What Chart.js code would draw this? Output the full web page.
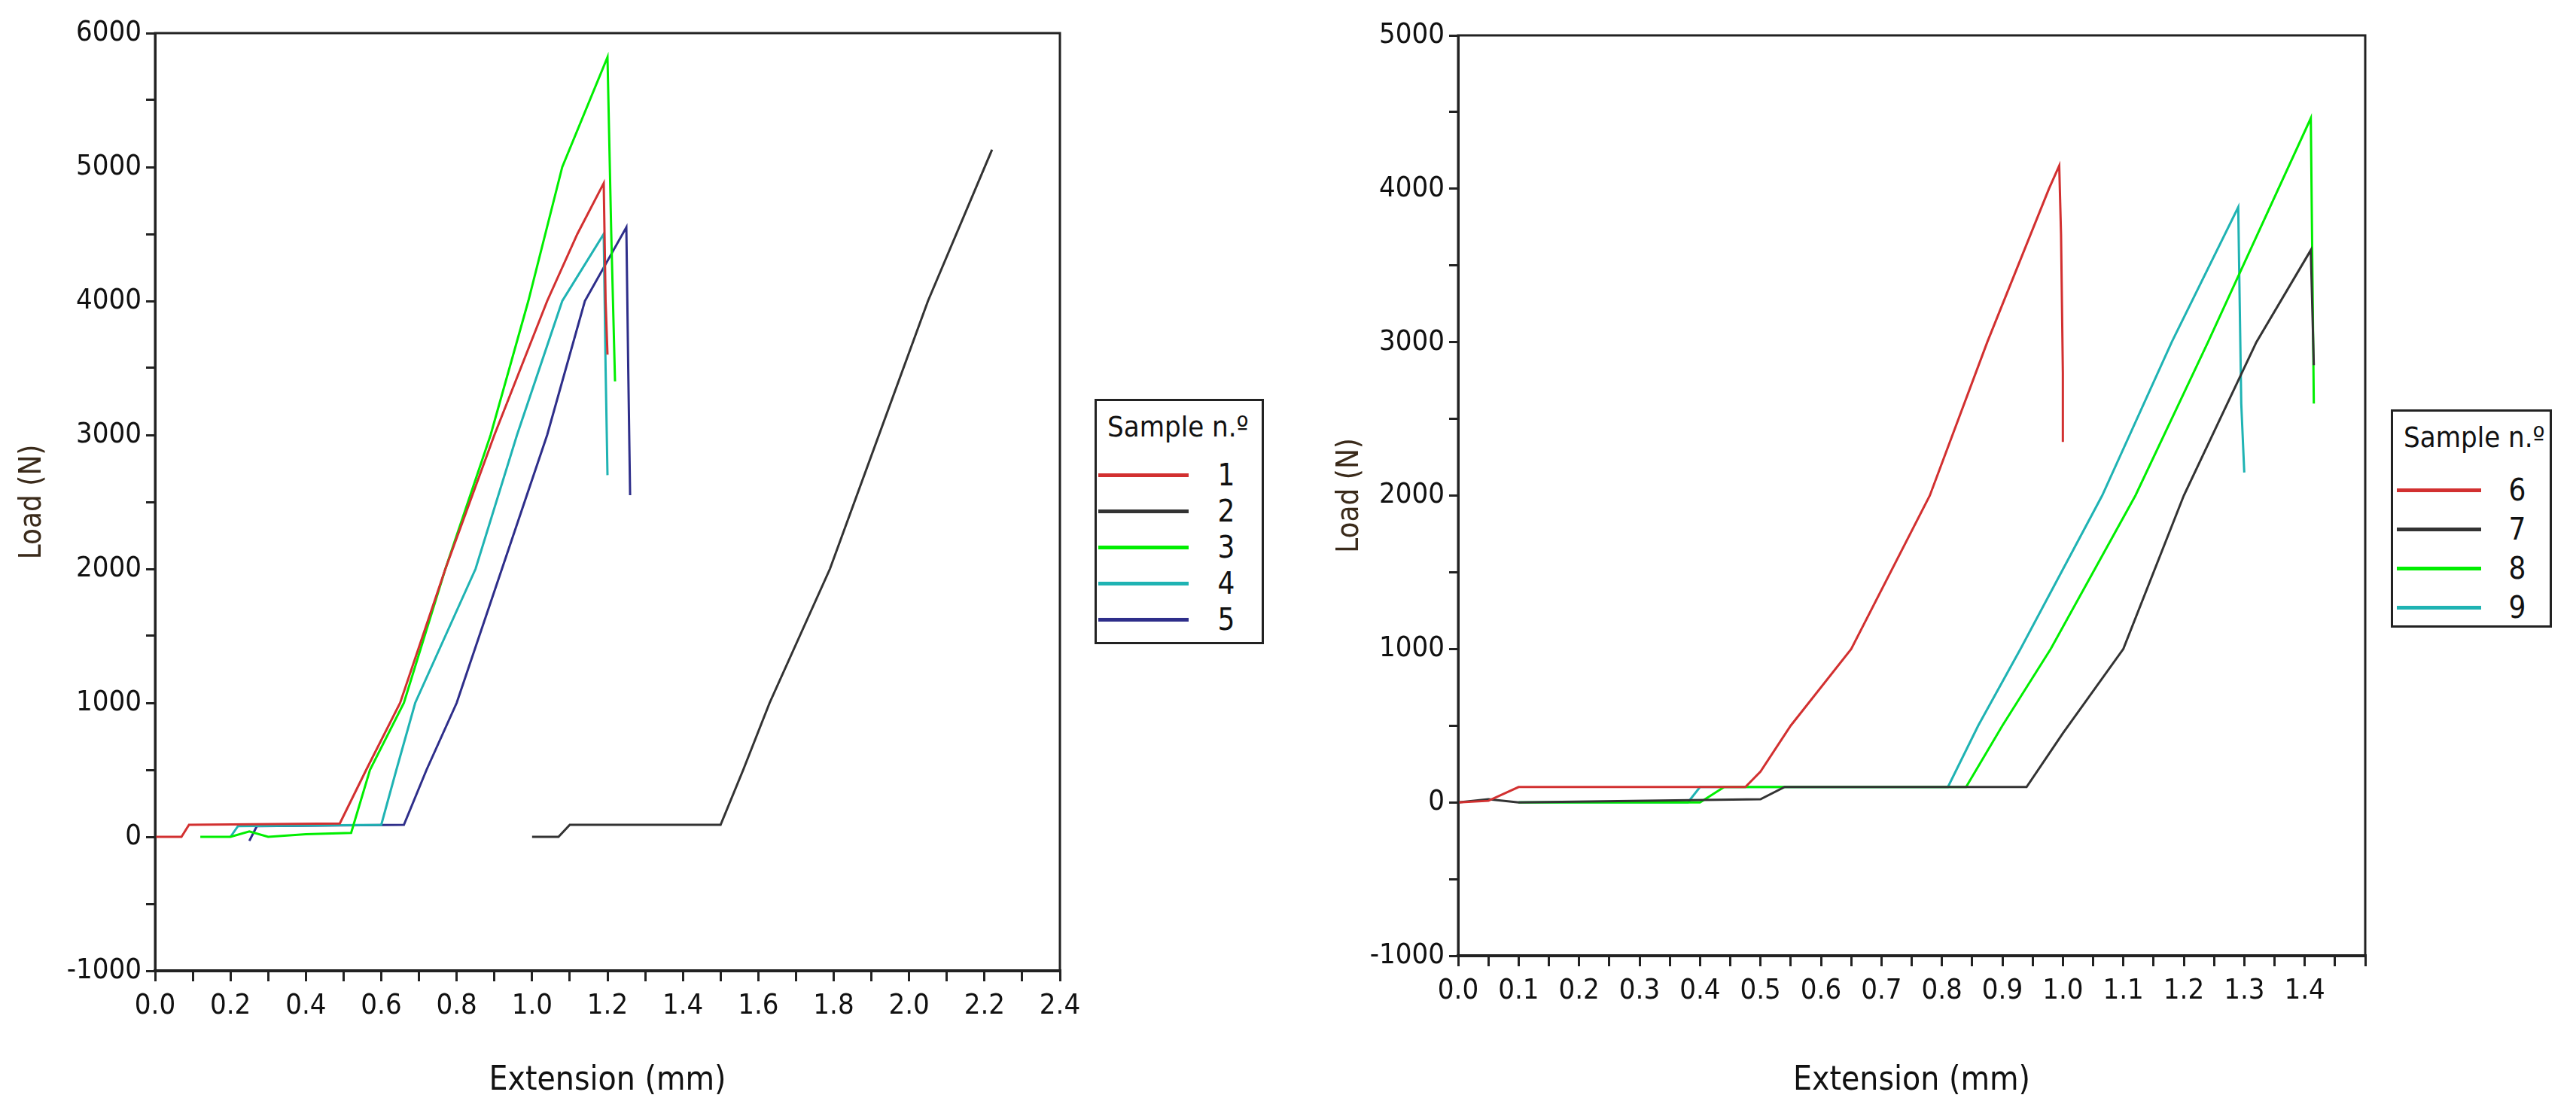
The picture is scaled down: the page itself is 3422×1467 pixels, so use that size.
<!DOCTYPE html>
<html><head><meta charset="utf-8">
<script src="https://cdn.jsdelivr.net/npm/chart.js@4/dist/chart.umd.min.js"></script>
<style>
body{margin:0;background:#fff;width:3422px;height:1467px;position:relative;overflow:hidden;font-family:"DejaVu Sans Condensed","DejaVu Sans",sans-serif}
canvas{position:absolute;top:0}
.leg{position:absolute;border:3px solid #222;background:#fff;box-sizing:border-box}
.leg .t{position:absolute;font-size:38px;color:#111;white-space:nowrap}
.leg .ln{position:absolute;height:5px}
.leg .n{position:absolute;font-size:40px;color:#111;transform:translate(-50%,-50%)}
</style></head><body>
<canvas id="c1" width="1450" height="1467" style="left:0;width:1450px;height:1467px"></canvas>
<canvas id="c2" width="1450" height="1467" style="left:1750px;width:1450px;height:1467px"></canvas>
<div id="leg1" class="leg" style="left:1454px;top:530px;width:225px;height:326px"></div>
<div id="leg2" class="leg" style="left:3176px;top:544px;width:214px;height:290px"></div>
<script>
// ---- Left chart data (Extension mm, Load N) ----
const s1x=[0,0.07,0.09,0.49,0.56,0.65,0.77,0.9,1.04,1.12,1.19,1.195,1.2];
const s1y=[0,0,90,100,500,1000,2000,3000,4000,4500,4880,4000,3600];
const s2x=[1.0,1.07,1.1,1.5,1.56,1.63,1.79,1.92,2.05,2.22];
const s2y=[0,0,90,90,500,1000,2000,3000,4000,5130];
const s3x=[0.12,0.2,0.25,0.3,0.4,0.52,0.57,0.66,0.77,0.89,0.99,1.08,1.2,1.21,1.22];
const s3y=[0,0,40,0,20,30,500,1000,2000,3000,4000,5000,5820,4500,3400];
const s4x=[0.2,0.22,0.6,0.64,0.69,0.85,0.96,1.08,1.19,1.195,1.2];
const s4y=[0,80,90,500,1000,2000,3000,4000,4500,3500,2700];
const s5x=[0.25,0.27,0.66,0.72,0.8,0.92,1.04,1.14,1.25,1.255,1.26];
const s5y=[-30,80,90,500,1000,2000,3000,4000,4550,3500,2550];
// ---- Right chart data ----
const s6x=[0,0.05,0.1,0.475,0.5,0.55,0.65,0.78,0.875,0.977,0.994,0.997,1.0,1.0];
const s6y=[0,10,100,100,200,500,1000,2000,3000,4000,4150,3700,2800,2350];
const s7x=[0,0.05,0.1,0.5,0.54,0.94,1.0,1.1,1.2,1.32,1.41,1.415];
const s7y=[0,20,0,20,100,100,450,1000,2000,3000,3600,2850];
const s8x=[0.1,0.4,0.44,0.84,0.9,0.98,1.12,1.24,1.41,1.415];
const s8y=[0,0,100,100,500,1000,2000,3000,4460,2600];
const s9x=[0.1,0.38,0.4,0.81,0.86,0.93,1.065,1.18,1.29,1.295,1.3];
const s9y=[0,0,100,100,500,1000,2000,3000,3880,2600,2150];
const names1=['1','2','3','4','5'], names2=['6','7','8','9'];
const cols1=['#d23030','#333333','#00ee00','#1fb3b3','#2e2e8a'];
const cols2=['#d23030','#333333','#00ee00','#1fb3b3'];

const pts=(xs,ys)=>xs.map((x,i)=>({x,y:ys[i]}));
const ds=(xs,ys,c,l)=>({label:l,data:pts(xs,ys),borderColor:c,backgroundColor:c,borderWidth:3,pointRadius:0,showLine:true,tension:0});
const FONT={family:'"DejaVu Sans Condensed","DejaVu Sans",sans-serif',size:38};
const boxPlugin={id:'box',afterDraw(ch){const a=ch.chartArea,g=ch.ctx;g.save();g.strokeStyle='#222';g.lineWidth=3;g.strokeRect(a.left,a.top,a.right-a.left,a.bottom-a.top);g.restore();}};
function make(id,datasets,xmax,xstep,xlab,ymin,ymax,yw,xh,pad){
  return new Chart(document.getElementById(id),{type:'scatter',data:{datasets},plugins:[boxPlugin],
  options:{responsive:false,animation:false,devicePixelRatio:1,layout:{padding:pad},
   plugins:{legend:{display:false},tooltip:{enabled:false}},
   scales:{
    x:{type:'linear',min:0,max:xmax,afterFit(s){s.height=xh;},
      ticks:{stepSize:xstep,autoSkip:false,maxRotation:0,color:'#111',font:FONT,padding:10,callback:xlab},
      grid:{drawOnChartArea:false,color:'#222',lineWidth:3,tickLength:14},border:{color:'#222',width:4},
      title:{display:true,text:'Extension (mm)',color:'#111',font:{family:FONT.family,size:44},padding:{top:34}}},
    y:{min:ymin,max:ymax,afterFit(s){s.width=yw;},
      ticks:{stepSize:500,autoSkip:false,color:'#111',font:FONT,padding:6,callback:v=>Math.round(v)%1000===0?String(Math.round(v)):''},
      grid:{drawOnChartArea:false,color:'#222',lineWidth:3,tickLength:12},border:{color:'#222',width:3},
      title:{display:true,text:'Load (N)',color:'#3a2a1a',font:{family:FONT.family,size:40},padding:{top:20,bottom:30}}}
   }}});
}
make('c1',[ds(s1x,s1y,cols1[0],names1[0]),ds(s2x,s2y,cols1[1],names1[1]),ds(s3x,s3y,cols1[2],names1[2]),ds(s4x,s4y,cols1[3],names1[3]),ds(s5x,s5y,cols1[4],names1[4])],
  2.4,0.1,v=>{const k=Math.round(v*10);return k%2===0?(k/10).toFixed(1):'';},-1000,6000,206,177,{left:0,top:44,right:42,bottom:0});
make('c2',[ds(s6x,s6y,cols2[0],names2[0]),ds(s7x,s7y,cols2[1],names2[1]),ds(s8x,s8y,cols2[2],names2[2]),ds(s9x,s9y,cols2[3],names2[3])],
  1.5,0.05,v=>{const k=Math.round(v*100);return (k%10===0&&k<=140)?(k/100).toFixed(1):'';},-1000,5000,187,197,{left:0,top:47,right:58,bottom:0});

function legend(id,names,cols,titleTop,firstY,gap,lx0,lx1,nx){
  const el=document.getElementById(id);
  const t=document.createElement('div');t.className='t';t.textContent='Sample n.º';t.style.left='14px';t.style.top=titleTop+'px';el.appendChild(t);
  names.forEach((n,i)=>{const y=firstY+i*gap;
    const l=document.createElement('div');l.className='ln';l.style.background=cols[i];l.style.left=lx0+'px';l.style.width=(lx1-lx0)+'px';l.style.top=(y-2)+'px';el.appendChild(l);
    const s=document.createElement('div');s.className='n';s.textContent=n;s.style.left=nx+'px';s.style.top=y+'px';el.appendChild(s);});
}
legend('leg1',names1,cols1,12,98,48,2,122,172);
legend('leg2',names2,cols2,12,104,52,5,117,165);
</script></body></html>
